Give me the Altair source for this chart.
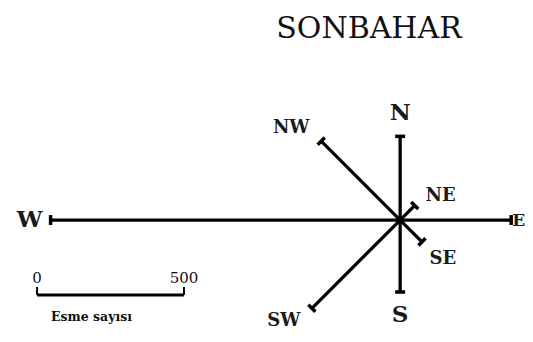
import altair as alt
import pandas as pd
import numpy as np

# ---- data ----
directions = ["N", "NE", "E", "SE", "S", "SW", "W", "NW"]
bearings = [0, 45, 90, 135, 180, 225, 270, 315]
counts = [285, 70, 378, 105, 245, 425, 1190, 380]
scale_ticks = [0, 500]
scale_title = "Esme sayısı"
title_text = "SONBAHAR"

# ---- layout ----
W, H = 517, 326
X_DOMAIN = [-1335, 425]
Y_DOMAIN = [-388, 722]
K = W / (X_DOMAIN[1] - X_DOMAIN[0])  # px per count
label_offsets_px = [(0, -23), (26, -10), (7.5, 1), (21, 17), (0, 23), (-28, 13), (-21, 0), (-30, -13)]
label_sizes = [23, 18, 17, 18, 23, 18, 23, 18]
SB_X0 = -1236   # scale bar origin (count units)
SB_Y = -255
SERIF = "DejaVu Serif"

rad = np.deg2rad(bearings)
df = pd.DataFrame({"dir": directions, "bearing": bearings, "count": counts})
df["x0"] = 0.0
df["y0"] = 0.0
df["x"] = df["count"] * np.sin(rad)
df["y"] = df["count"] * np.cos(rad)
df["lx"] = df["x"] + np.array([o[0] for o in label_offsets_px]) / K
df["ly"] = df["y"] - np.array([o[1] for o in label_offsets_px]) / K
df["fs"] = label_sizes

sb = pd.DataFrame({"v": scale_ticks, "txt": [str(t) for t in scale_ticks]})
sb["x"] = SB_X0 + sb["v"]
sb["y"] = SB_Y
sb["ytop"] = SB_Y + 8 / K
sb["ylab"] = SB_Y + 17 / K

xs = alt.Scale(domain=X_DOMAIN, nice=False, zero=False)
ys = alt.Scale(domain=Y_DOMAIN, nice=False, zero=False)


def X(f):
    return alt.X(f, type="quantitative", scale=xs, axis=None)


def Y(f):
    return alt.Y(f, type="quantitative", scale=ys, axis=None)


base = alt.Chart(df)
spokes = base.mark_rule(color="black", strokeWidth=3.3).encode(
    x=X("x0"), y=Y("y0"), x2="x", y2="y"
)
caps = base.mark_point(shape="stroke", size=100, strokeWidth=3.5, color="black",
                       opacity=1, filled=False).encode(
    x=X("x"), y=Y("y"), angle=alt.Angle("bearing:Q", scale=None)
)
labels = base.mark_text(font=SERIF, fontWeight="bold", color="#1a1a1a",
                        align="center", baseline="middle").encode(
    x=X("lx"), y=Y("ly"), text="dir:N", size=alt.Size("fs:Q", scale=None)
)

sbc = alt.Chart(sb)
bar = alt.Chart(pd.DataFrame({"a": [SB_X0 + scale_ticks[0]], "b": [SB_X0 + scale_ticks[-1]], "y": [SB_Y]})).mark_rule(
    color="black", strokeWidth=3).encode(x=X("a"), x2="b", y=Y("y"))
ticks = sbc.mark_rule(color="black", strokeWidth=2).encode(x=X("x"), y=Y("y"), y2="ytop")
tick_labels = sbc.mark_text(font=SERIF, fontSize=15, color="#111",
                            baseline="middle", align="center").encode(
    x=X("x"), y=Y("ylab"), text="txt:N"
)
sb_title = alt.Chart(pd.DataFrame({"x": [SB_X0 + 0.37 * scale_ticks[-1]], "y": [SB_Y - 22 / K], "t": [scale_title]})).mark_text(
    font=SERIF, fontWeight="bold", fontSize=12.5, color="#111",
    align="center", baseline="middle").encode(x=X("x"), y=Y("y"), text="t:N")

title = alt.Chart(pd.DataFrame({"t": [title_text]})).mark_text(
    font=SERIF, fontSize=30, color="#111", align="center",
    baseline="alphabetic").encode(x=alt.value(361), y=alt.value(30), text="t:N")

chart = alt.layer(spokes, caps, labels, bar, ticks, tick_labels, sb_title, title).properties(
    width=W, height=H, padding=0, autosize=alt.AutoSizeParams(type="none")
).configure_view(stroke=None)

chart.save("out.html", embed_options={"renderer": "svg", "actions": False})
